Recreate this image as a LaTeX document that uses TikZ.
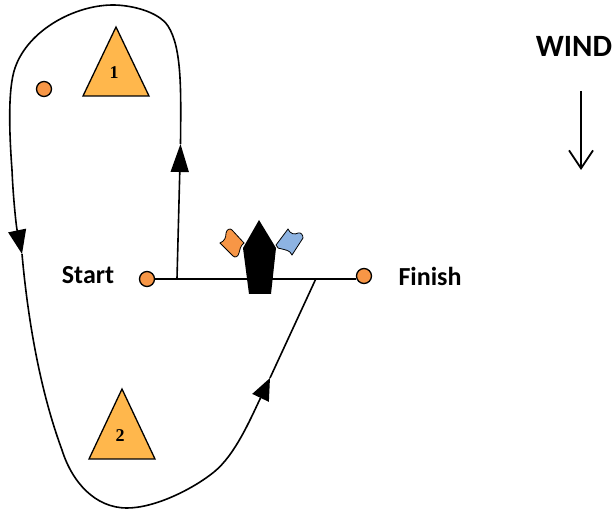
\documentclass[tikz,border=0pt]{standalone}
\usepackage{fontspec}
\setmainfont{Carlito}
\newfontfamily\numfont{Liberation Serif}
\usetikzlibrary{arrows.meta}
\definecolor{markorange}{HTML}{FFB74C}
\definecolor{pinorange}{HTML}{F79646}
\definecolor{flagblue}{HTML}{8DB3E2}
\tikzset{
    course-line/.style = {draw=black, line width=1.6pt},
    course-head/.style = {course-line, -{Triangle[length=#1, width=18pt]}},
    course-head/.default = 28pt,
    pin/.style = {circle, draw=black, fill=pinorange, line width=1.3pt, minimum size=15pt, inner sep=0pt},
    buoy/.style = {draw=black, fill=markorange, line width=1.3pt, line join=miter},
    buoy-label/.style = {font=\numfont\bfseries\fontsize{18}{18}\selectfont},
    side-label/.style = {font=\bfseries\fontsize{26}{26}\selectfont},
    flag/.style = {draw=black, line width=0.8pt},
}

\begin{document}
\begin{tikzpicture}[x=1pt, y=-1pt]
\useasboundingbox (0,0) rectangle (616,510);

\node[pin] (pinstart) at (147,279) {};
\node[pin] (pinfinish) at (364,276) {};
\node[pin] (pinmark) at (44,89) {};
\node[side-label] (labelstart) at (88,275) {Start};
\node[side-label] (labelfinish) at (430,276) {Finish};
\node[font=\bfseries\fontsize{31}{31}\selectfont] (labelwind) at (574,46) {WIND};

\coordinate (turnstart) at (177,278.5);
\coordinate (headup) at (180.5,144);
\coordinate (headleft) at (22,254);
\coordinate (headright) at (270,378);
\coordinate (turnend) at (316,278.5);
\coordinate (windtop) at (581,91);
\coordinate (windend) at (581,170);

\draw[course-line] (pinstart) -- (pinfinish.west |- pinstart);

% first leg round mark 1
\draw[course-head] (turnstart) -- (headup);
\draw[course-line] (headup) .. controls (181,90) and (182,48) .. (168,26)
    .. controls (158,11) and (130,5) .. (113,5)
    .. controls (75,5) and (28,30) .. (15,68)
    .. controls (8,88) and (9,130) .. (12,170);
\draw[course-head=24pt] (12,170) .. controls (13,195) and (16,225) .. (headleft);

% second leg round mark 2
\draw[course-line] (headleft) .. controls (27,310) and (38,385) .. (62,450)
    .. controls (72,482) and (95,508) .. (127,508)
    .. controls (155,508) and (193,489) .. (214,472);
\draw[course-head=22pt] (214,472) .. controls (235,455) and (250,420) .. (headright);
\draw[course-line] (headright) -- (turnend);

\draw[buoy] (116,27) -- (149,96) -- (83,96) -- cycle;
\node[buoy-label] (buoyone) at (114,73) {1};
\draw[buoy] (122,389) -- (155,459) -- (89,459) -- cycle;
\node[buoy-label] (buoytwo) at (120,436) {2};

% committee boat and its two flags
\fill[black] (259,220) -- (276,248) -- (271,294) -- (249,294) -- (243,248) -- cycle;
\draw[flag, fill=pinorange] (220,243) .. controls (225,241) and (226,237) .. (226,233)
    .. controls (227,229) and (230,228) .. (232,230)
    -- (244,243) .. controls (240,246) and (240,250) .. (239,253)
    .. controls (238,257) and (235,258) .. (233,256) -- cycle;
\draw[flag, fill=flagblue] (276,245) -- (288,229)
    .. controls (290,234) and (295,235) .. (298,233)
    .. controls (301,232) and (303,235) .. (303,238)
    -- (292,255) .. controls (290,250) and (285,250) .. (282,249)
    .. controls (279,249) and (277,248) .. (276,245) -- cycle;

\draw[line width=1.8pt, -{Straight Barb[length=18pt, width=24pt, line width=1.8pt]}] (windtop) -- (windend);
\end{tikzpicture}
\end{document}
